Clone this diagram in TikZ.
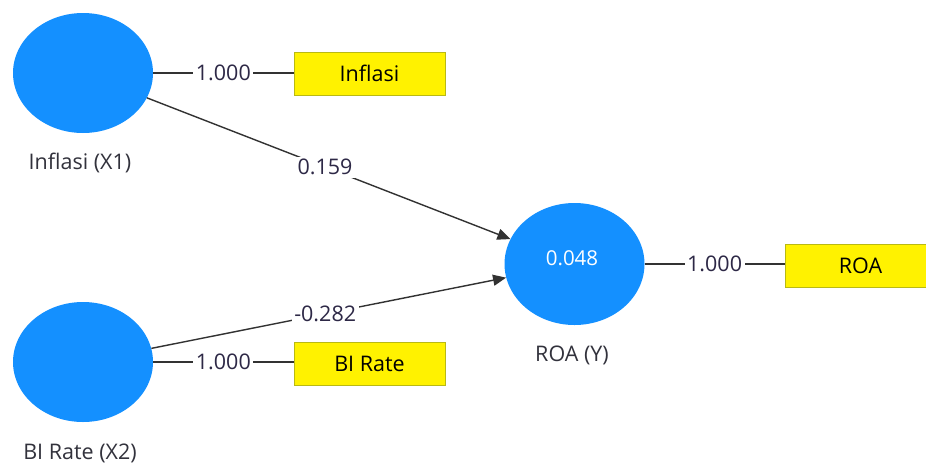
\documentclass[tikz,border=0pt]{standalone}
\usepackage{fontspec}
\setmainfont{Open Sans}
\usetikzlibrary{shapes.geometric,arrows.meta}
\definecolor{lvblue}{RGB}{20,144,255}
\definecolor{indborder}{RGB}{185,185,20}
\definecolor{linegray}{RGB}{50,50,50}
\definecolor{labelcol}{RGB}{45,40,70}
\definecolor{namecol}{RGB}{50,50,60}
\begin{document}
\begin{tikzpicture}[x=1pt,y=-1pt,
  lv/.style={ellipse, fill=lvblue, minimum width=140pt, minimum height=120pt, inner sep=0pt},
  ind/.style={rectangle, fill=yellow, draw=indborder, line width=1pt, minimum width=151pt, minimum height=43pt, inner sep=0pt, text=black, font=\fontsize{21.5}{24}\selectfont},
  pathline/.style={draw=linegray, line width=1.4pt, -{Triangle[length=13pt,width=11pt]}},
  loadline/.style={draw=linegray, line width=1.4pt},
  coef/.style={fill=white, inner sep=2.5pt, text=labelcol, font=\fontsize{21.5}{24}\selectfont},
  lvname/.style={text=namecol, font=\fontsize{21.5}{24}\selectfont}]
\useasboundingbox (0,0) rectangle (926,464);
\fill[white] (0,0) rectangle (926,464);
% latent variables
\node[lv] (x1) at (83,73) {};
\node[lv] (x2) at (83,362) {};
\node[lv, minimum height=122pt] (y) at (574.5,264) {};
\node[text=white, font=\fontsize{20.5}{24}\selectfont] (yval) at (572,258) {0.048};
% names
\node[lvname] (x1name) at (80,163) {Inflasi (X1)};
\node[lvname] (x2name) at (80,453) {BI Rate (X2)};
\node[lvname] (yname) at (572,355) {ROA (Y)};
% indicators
\node[ind] (i1) at (369.5,73.5) {Inflasi};
\node[ind] (i2) at (369.5,363.5) {BI Rate};
\node[ind] (i3) at (860.5,265.5) {ROA};
% loadings
\draw[loadline] (x1.east) -- node[coef] (l1) {1.000} (i1.west |- x1.east);
\draw[loadline] (x2.east) -- node[coef] (l2) {1.000} (i2.west |- x2.east);
\draw[loadline] (y.east) -- node[coef] (l3) {1.000} (i3.west |- y.east);
% paths
\draw[pathline] (x1) -- node[coef, pos=0.49] (p1) {0.159} (y);
\draw[pathline] (x2) -- node[coef, pos=0.49] (p2) {-0.282} (y);
\end{tikzpicture}
\end{document}
